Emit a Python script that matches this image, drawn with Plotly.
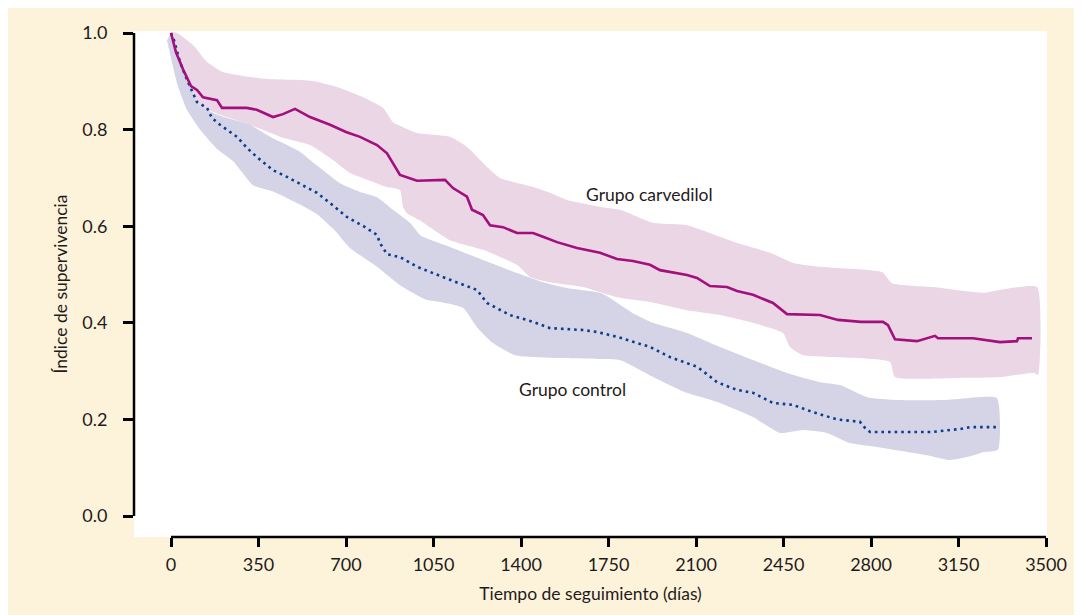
import plotly.graph_objects as go

# ---------------- data ----------------
carv_days = [0, 20, 48, 80, 104, 128, 184, 204, 303, 343, 408, 448, 496, 556, 636, 700, 756, 824, 864, 916,
             984, 1096, 1128, 1184, 1204, 1248, 1276, 1328, 1384, 1448, 1488, 1544, 1624, 1716, 1784, 1848,
             1916, 1956, 2064, 2104, 2156, 2224, 2264, 2328, 2408, 2464, 2596, 2668, 2760, 2848, 2868, 2896,
             2984, 3024, 3056, 3068, 3208, 3316, 3384, 3388, 3444]
carv_surv = [1.0, 0.96, 0.925, 0.89, 0.882, 0.867, 0.861, 0.845, 0.845, 0.841, 0.826, 0.832, 0.843, 0.826,
             0.81, 0.795, 0.785, 0.768, 0.751, 0.706, 0.694, 0.696, 0.679, 0.661, 0.634, 0.623, 0.602, 0.598,
             0.586, 0.586, 0.578, 0.567, 0.555, 0.545, 0.532, 0.528, 0.52, 0.509, 0.499, 0.493, 0.476, 0.474,
             0.466, 0.458, 0.441, 0.418, 0.416, 0.406, 0.402, 0.402, 0.395, 0.366, 0.362, 0.368, 0.373, 0.368,
             0.368, 0.36, 0.362, 0.368, 0.368]

ctrl_days = [0, 12, 36, 64, 104, 144, 164, 196, 264, 304, 344, 408, 464, 528, 584, 636, 704, 770, 824, 836,
             864, 916, 984, 1116, 1224, 1264, 1356, 1448, 1516, 1648, 1704, 1784, 1916, 1996, 2104, 2148, 2184,
             2264, 2328, 2408, 2488, 2568, 2664, 2756, 2768, 2796, 3048, 3116, 3156, 3196, 3304]
ctrl_surv = [1.0, 0.985, 0.94, 0.903, 0.857, 0.845, 0.824, 0.81, 0.785, 0.762, 0.743, 0.716, 0.702, 0.685,
             0.669, 0.648, 0.619, 0.6, 0.582, 0.565, 0.542, 0.536, 0.516, 0.489, 0.468, 0.441, 0.416, 0.402,
             0.389, 0.385, 0.381, 0.371, 0.35, 0.329, 0.309, 0.292, 0.277, 0.261, 0.255, 0.234, 0.23, 0.215,
             0.2, 0.195, 0.186, 0.174, 0.174, 0.178, 0.18, 0.184, 0.184]

carv_up_days = [0, 24, 88, 144, 208, 288, 384, 504, 584, 664, 768, 848, 888, 928, 984, 1116, 1184, 1248, 1316,
                1448, 1516, 1584, 1716, 1796, 1928, 2064, 2196, 2264, 2396, 2488, 2596, 2676, 2844, 2884, 3048,
                3248, 3316, 3464]
carv_up_vals = [1.0, 1.0, 0.975, 0.94, 0.919, 0.911, 0.905, 0.903, 0.899, 0.888, 0.867, 0.845, 0.815, 0.805,
                0.793, 0.785, 0.764, 0.731, 0.70, 0.681, 0.669, 0.654, 0.64, 0.634, 0.607, 0.602, 0.578, 0.565,
                0.545, 0.524, 0.516, 0.513, 0.505, 0.482, 0.474, 0.462, 0.468, 0.474]
carv_lo_days = [0, 30, 80, 116, 200, 316, 448, 556, 648, 716, 784, 864, 916, 928, 944, 996, 1116, 1248, 1384,
                1436, 1516, 1648, 1784, 1916, 2064, 2196, 2328, 2448, 2476, 2528, 2648, 2876, 2896, 3184, 3316,
                3452, 3468]
carv_lo_vals = [1.0, 0.95, 0.885, 0.85, 0.83, 0.81, 0.783, 0.768, 0.737, 0.71, 0.696, 0.681, 0.675, 0.64,
                0.627, 0.612, 0.571, 0.551, 0.52, 0.495, 0.484, 0.474, 0.453, 0.443, 0.426, 0.416, 0.40, 0.379,
                0.35, 0.333, 0.329, 0.319, 0.288, 0.286, 0.288, 0.296, 0.292]

ctrl_up_days = [0, 30, 80, 116, 200, 316, 384, 448, 516, 556, 608, 676, 756, 824, 888, 956, 1000, 1116, 1248,
                1384, 1488, 1584, 1716, 1760, 1848, 1928, 2064, 2196, 2328, 2464, 2596, 2676, 2784, 2916, 3088,
                3184, 3304]
ctrl_up_vals = [1.0, 0.95, 0.885, 0.85, 0.828, 0.81, 0.789, 0.772, 0.754, 0.737, 0.716, 0.689, 0.671, 0.66,
                0.634, 0.607, 0.58, 0.557, 0.53, 0.503, 0.484, 0.472, 0.462, 0.45, 0.42, 0.40, 0.379, 0.35,
                0.323, 0.296, 0.277, 0.271, 0.246, 0.24, 0.24, 0.244, 0.244]
ctrl_lo_days = [-16, 24, 64, 116, 184, 248, 328, 408, 516, 584, 648, 716, 824, 916, 1024, 1076, 1168, 1224,
                1288, 1376, 1556, 1716, 1796, 1928, 2064, 2196, 2328, 2436, 2528, 2624, 2676, 2716, 2848, 3024,
                3116, 3184, 3248, 3308]
ctrl_lo_vals = [0.985, 0.896, 0.841, 0.80, 0.76, 0.735, 0.685, 0.672, 0.645, 0.625, 0.595, 0.555, 0.516,
                0.478, 0.447, 0.443, 0.431, 0.391, 0.358, 0.333, 0.327, 0.325, 0.323, 0.288, 0.255, 0.234,
                0.205, 0.172, 0.178, 0.172, 0.16, 0.151, 0.141, 0.126, 0.116, 0.122, 0.132, 0.137]

x_ticks = [0, 350, 700, 1050, 1400, 1750, 2100, 2450, 2800, 3150, 3500]
y_ticks = [0.0, 0.2, 0.4, 0.6, 0.8, 1.0]

label_carv = "Grupo carvedilol"
label_ctrl = "Grupo control"
x_title = "Tiempo de seguimiento (días)"
y_title = "Índice de supervivencia"

# ---------------- styling ----------------
FONT = "Lato"
TXT = "#1f1b1c"
YELLOW = "#fdf3da"
PINK_BAND = "#ead6e4"
BLUE_BAND = "#d4d4e6"
MAGENTA = "#a30f7c"
BLUE = "#0c3c8c"

W, H = 1082, 615
OFF = 8  # page body margin
# plot-area edges in screen pixels
PX_L, PX_R, PX_T, PX_B = 134, 1047, 31, 537
L, R, T, B = PX_L - OFF, W + OFF - PX_R, PX_T - OFF, H + OFF - PX_B

fig = go.Figure()

# confidence bands
fig.add_trace(go.Scatter(
    x=carv_up_days + carv_lo_days[::-1], y=carv_up_vals + carv_lo_vals[::-1],
    fill="toself", fillcolor=PINK_BAND, line=dict(width=0, color=PINK_BAND, shape="spline", smoothing=0.5),
    mode="lines", hoverinfo="skip", showlegend=False))
fig.add_trace(go.Scatter(
    x=ctrl_up_days + ctrl_lo_days[::-1], y=ctrl_up_vals + ctrl_lo_vals[::-1],
    fill="toself", fillcolor=BLUE_BAND, line=dict(width=0, color=BLUE_BAND, shape="spline", smoothing=0.5),
    mode="lines", hoverinfo="skip", showlegend=False))

# survival curves
fig.add_trace(go.Scatter(x=ctrl_days, y=ctrl_surv, mode="lines",
                         line=dict(color=BLUE, width=2.6, dash="2.6px,4px"),
                         name=label_ctrl, showlegend=False))
fig.add_trace(go.Scatter(x=carv_days, y=carv_surv, mode="lines",
                         line=dict(color=MAGENTA, width=2.6),
                         name=label_carv, showlegend=False))

# pixel -> data mapping for ranges
x0_px, x1_px = 171, 1046   # day 0, day 3500
y0_px, y1_px = 516, 33     # v 0, v 1
xs = (x_ticks[-1] - x_ticks[0]) / (x1_px - x0_px)
ys = (y_ticks[-1] - y_ticks[0]) / (y0_px - y1_px)
xr = [(PX_L - x0_px) * xs, (PX_R - x0_px) * xs]
yr = [(y0_px - PX_B) * ys, (y0_px - PX_T) * ys]

fig.update_layout(
    width=W, height=H,
    margin=dict(l=L, r=R, t=T, b=B, pad=0, autoexpand=False),
    paper_bgcolor=YELLOW, plot_bgcolor="white",
    font=dict(family=FONT, color=TXT, size=18),
    xaxis=dict(range=xr, tickvals=x_ticks, ticktext=[str(v) for v in x_ticks], automargin=False,
               showgrid=False, zeroline=False, showline=False,
               ticks="outside", ticklen=9, tickwidth=2.5, tickcolor="black",
               tickfont=dict(size=18, family=FONT, color=TXT), ticklabelstandoff=2,
               title=dict(text=x_title, font=dict(size=17.5, family=FONT, color=TXT), standoff=14)),
    yaxis=dict(range=yr, tickvals=y_ticks, ticktext=[f"{v:.1f}" for v in y_ticks], automargin=False,
               showgrid=False, zeroline=False, showline=False,
               ticks="outside", ticklen=10, tickwidth=2.5, tickcolor="black",
               tickfont=dict(size=18, family=FONT, color=TXT), ticklabelstandoff=12,
               title=dict(text=y_title, font=dict(size=17.5, family=FONT, color=TXT), standoff=10)),
    shapes=[
        # detached axis lines
        dict(type="line", xref="paper", yref="y", x0=0, x1=0, y0=y_ticks[0], y1=y_ticks[-1],
             line=dict(color="black", width=2.5)),
        dict(type="line", xref="x", yref="paper", x0=x_ticks[0], x1=x_ticks[-1], y0=0, y1=0,
             line=dict(color="black", width=2.5)),
    ],
    annotations=[
        dict(x=1912, y=0.665, xref="x", yref="y", text=label_carv, showarrow=False,
             font=dict(size=17.5, family=FONT, color=TXT)),
        dict(x=1604, y=0.261, xref="x", yref="y", text=label_ctrl, showarrow=False,
             font=dict(size=17.5, family=FONT, color=TXT)),
    ],
)

fig.write_html("out.html")
